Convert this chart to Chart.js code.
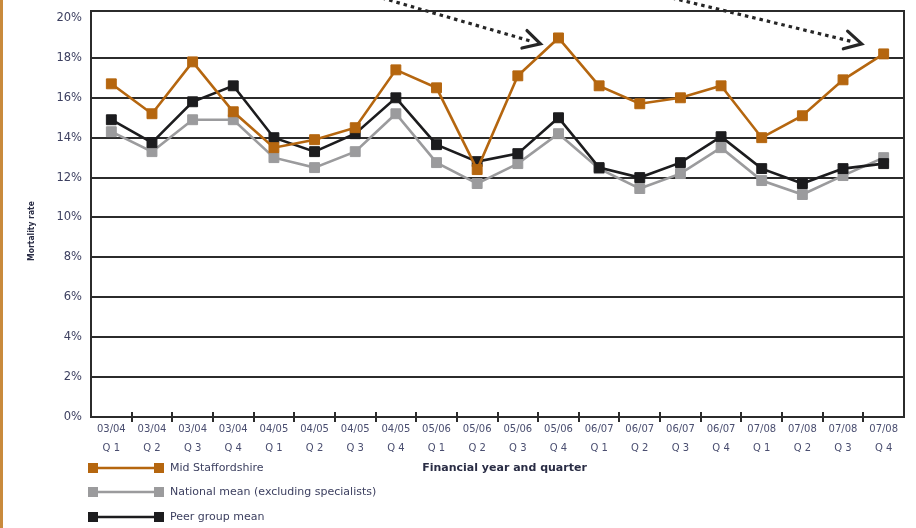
<!DOCTYPE html>
<html><head><meta charset="utf-8">
<script src="https://cdn.jsdelivr.net/npm/chart.js@4"></script>
<style>
html,body{margin:0;padding:0;background:#fff;}
#wrap{position:relative;width:916px;height:528px;overflow:hidden;}
#edge{position:absolute;left:0;top:0;width:3px;height:528px;background:#c98a3c;}
canvas{position:absolute;left:0;top:0;}
</style></head><body>
<div id="wrap"><canvas id="c" width="916" height="528"></canvas><div id="edge"></div></div>
<script>
const years = ['03/04','03/04','03/04','03/04','04/05','04/05','04/05','04/05','05/06','05/06','05/06','05/06','06/07','06/07','06/07','06/07','07/08','07/08','07/08','07/08'];
const quarters = ['Q 1','Q 2','Q 3','Q 4','Q 1','Q 2','Q 3','Q 4','Q 1','Q 2','Q 3','Q 4','Q 1','Q 2','Q 3','Q 4','Q 1','Q 2','Q 3','Q 4'];
const midStaffordshire = [16.7,15.2,17.8,15.3,13.5,13.9,14.5,17.4,16.5,12.4,17.1,19.0,16.6,15.7,16.0,16.6,14.0,15.1,16.9,18.2];
const nationalMean = [14.3,13.3,14.9,14.9,13.0,12.5,13.3,15.2,12.75,11.7,12.7,14.2,12.45,11.45,12.2,13.5,11.85,11.15,12.1,13.0];
const peerGroupMean = [14.9,13.75,15.8,16.6,14.0,13.3,14.2,16.0,13.65,12.8,13.2,15.0,12.5,12.0,12.75,14.05,12.45,11.7,12.45,12.7];
const yTicks = [0,2,4,6,8,10,12,14,16,18,20];
const seriesNames = ['Mid Staffordshire','National mean (excluding specialists)','Peer group mean'];
const arrowTargets = [11,19];

const ORANGE = '#b5660f', GRAY = '#9b9b9d', BLACK = '#1c1c1e';
const TEXT = '#3d4060';
const FONT = "'DejaVu Sans', 'Liberation Sans', sans-serif";
const FONTC = "'DejaVu Sans Condensed', 'DejaVu Sans', sans-serif";

const labels = years.map((y,i)=>[y, quarters[i]]);

function ds(label, data, color, order){
  return {label, data, borderColor: color, backgroundColor: color, borderWidth: 2.6,
    pointStyle: 'rect', pointRadius: 7, pointHoverRadius: 7, pointBorderWidth: 1,
    pointBorderColor: color, pointBackgroundColor: color, tension: 0, order};
}

const framePlugin = {
  id: 'frame',
  beforeDatasetsDraw(chart){
    const {ctx, chartArea:a, scales:{x}} = chart;
    ctx.save();
    ctx.strokeStyle = '#2b2b2b'; ctx.lineWidth = 2;
    ctx.strokeRect(a.left, a.top, a.right - a.left, a.bottom - a.top);
    ctx.beginPath();
    for (let i = 1; i < labels.length; i++){
      const px = Math.round((x.getPixelForValue(i-1) + x.getPixelForValue(i)) / 2);
      ctx.moveTo(px, a.bottom - 5); ctx.lineTo(px, a.bottom + 5);
    }
    ctx.stroke();
    ctx.restore();
  },
  afterDraw(chart){
    const {ctx, chartArea:a} = chart;
    ctx.save();
    // axis titles
    ctx.fillStyle = '#2a2d45';
    ctx.font = "bold 11px " + FONT;
    ctx.textAlign = 'center'; ctx.textBaseline = 'middle';
    ctx.fillText('Financial year and quarter', (a.left + a.right)/2 + 7, 468);
    ctx.save();
    ctx.translate(32, 231);
    ctx.rotate(-Math.PI/2);
    ctx.font = "bold 8.5px " + FONTC;
    ctx.fillText('Mortality rate', 0, 0);
    ctx.restore();
    // legend
    const cols = [ORANGE, GRAY, BLACK];
    const rows = [468, 492, 517];
    for (let i = 0; i < 3; i++){
      const y = rows[i], x0 = 88, x1 = 164;
      ctx.strokeStyle = cols[i]; ctx.lineWidth = 2.6;
      ctx.beginPath(); ctx.moveTo(x0 + 5, y); ctx.lineTo(x1 - 5, y); ctx.stroke();
      ctx.fillStyle = cols[i];
      ctx.fillRect(x0, y - 5, 10, 10);
      ctx.fillRect(x1 - 10, y - 5, 10, 10);
      ctx.fillStyle = TEXT;
      ctx.font = "11px " + FONT;
      ctx.textAlign = 'left'; ctx.textBaseline = 'middle';
      ctx.fillText(seriesNames[i], 170, y);
    }
    // dotted arrows
    const meta = chart.getDatasetMeta(0);
    const starts = [[382, -2], [672, -2]];
    const tipOff = [[-18, 6], [-22, -10]];
    arrowTargets.forEach((idx, k) => {
      const p = meta.data[idx];
      const tx = p.x + tipOff[k][0], ty = p.y + tipOff[k][1];
      const [sx, sy] = starts[k];
      const ang = Math.atan2(ty - sy, tx - sx);
      ctx.strokeStyle = '#262626'; ctx.lineWidth = 3.2;
      ctx.setLineDash([3.5, 4]);
      ctx.beginPath(); ctx.moveTo(sx, sy);
      ctx.lineTo(tx - 9*Math.cos(ang), ty - 9*Math.sin(ang)); ctx.stroke();
      ctx.setLineDash([]);
      const L = 19, spread = 0.5;
      ctx.lineWidth = 3.2; ctx.lineCap = 'round';
      ctx.beginPath();
      ctx.moveTo(tx - L*Math.cos(ang - spread), ty - L*Math.sin(ang - spread));
      ctx.lineTo(tx, ty);
      ctx.lineTo(tx - L*Math.cos(ang + spread), ty - L*Math.sin(ang + spread));
      ctx.stroke();
      ctx.lineCap = 'butt';
    });
    ctx.restore();
  }
};

new Chart(document.getElementById('c'), {
  type: 'line',
  data: {
    labels,
    datasets: [
      ds(seriesNames[0], midStaffordshire, ORANGE, 0),
      ds(seriesNames[1], nationalMean, GRAY, 2),
      ds(seriesNames[2], peerGroupMean, BLACK, 1)
    ]
  },
  options: {
    responsive: false, animation: false, devicePixelRatio: 1,
    layout: { padding: { top: 11, right: 12, left: 0, bottom: 0 } },
    plugins: { legend: { display: false }, tooltip: { enabled: false } },
    scales: {
      x: {
        offset: true,
        grid: { display: false, drawTicks: false },
        border: { display: false },
        ticks: { autoSkip: false, maxRotation: 0, minRotation: 0, padding: 3,
          color: '#4a4e70', font: { family: FONT, size: 10, lineHeight: 1.9 } },
        afterFit: s => { s.height = 111; s.paddingLeft = 0; s.paddingRight = 0; }
      },
      y: {
        min: 0, max: 20.35,
        afterBuildTicks: s => { s.ticks = yTicks.map(v => ({ value: v })); },
        afterFit: s => { s.width = 91; s.paddingTop = 0; s.paddingBottom = 0; },
        grid: { color: c => (c.tick && c.tick.value === 20) ? 'rgba(0,0,0,0)' : '#2b2b2b', lineWidth: 2, drawTicks: false },
        border: { display: false },
        ticks: { padding: 9, color: TEXT, callback: v => v + '%', font: { family: FONT, size: 11.5 } }
      }
    }
  },
  plugins: [framePlugin]
});
</script>
</body></html>
